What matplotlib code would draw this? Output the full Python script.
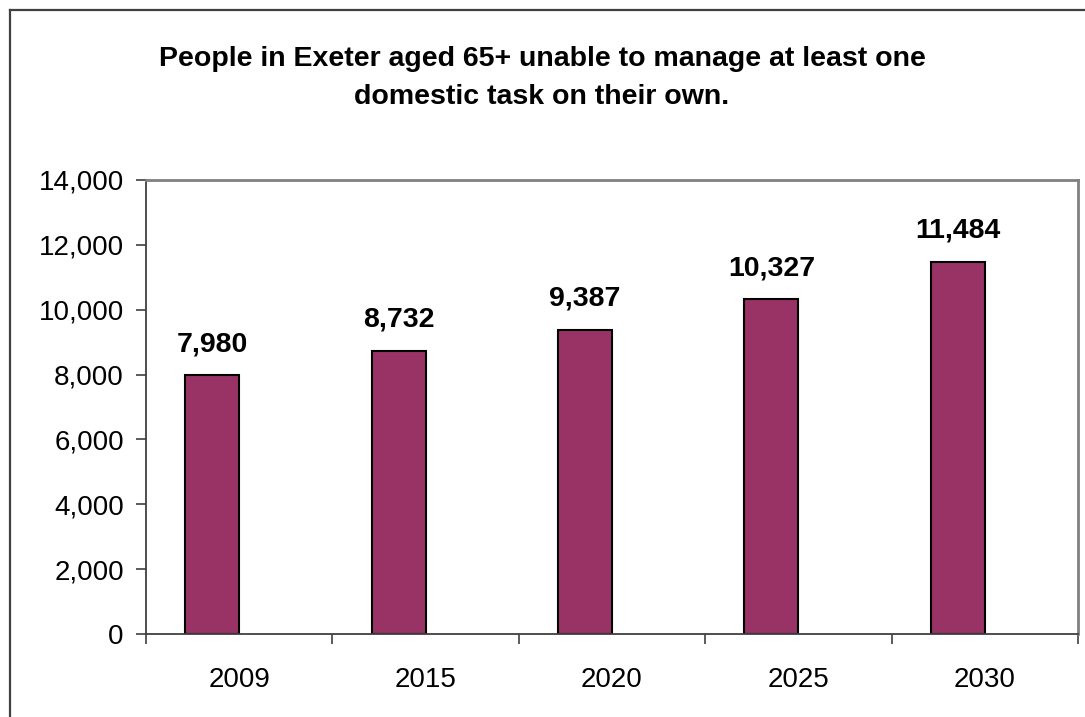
import matplotlib.pyplot as plt
from matplotlib.lines import Line2D
from matplotlib.ticker import FuncFormatter

years = ["2009", "2015", "2020", "2025", "2030"]
people = [7980, 8732, 9387, 10327, 11484]

plt.rcParams['font.family'] = ['Liberation Sans', 'DejaVu Sans']

fig = plt.figure(figsize=(10.85, 7.17), dpi=100)
ax = fig.add_axes([146 / 1085, 1 - 634 / 717, (1078 - 146) / 1085, (634 - 180) / 717])

# outer chart frame (only top and left visible in the crop)
fig.add_artist(Line2D([10 / 1085, 10 / 1085], [0, 1 - 10 / 717], color='#404040', lw=1.6,
                      transform=fig.transFigure))
fig.add_artist(Line2D([10 / 1085, 1], [1 - 10 / 717, 1 - 10 / 717], color='#404040', lw=1.6,
                      transform=fig.transFigure))

# bars sit left of the category centre (empty second series in the original)
w = 0.29
x = list(range(len(years)))
ax.bar([i - w / 2 for i in x], people, width=w, color='#993366', edgecolor='black', linewidth=1.5)

for i, v in enumerate(people):
    ax.text(i - w / 2, v + 550, f"{v:,}", ha='center', va='bottom', fontsize=20.5, fontweight='bold')

ax.set_xlim(-0.5, len(years) - 0.5)
ax.set_ylim(0, 14000)
ax.set_yticks(range(0, 14001, 2000))
ax.yaxis.set_major_formatter(FuncFormatter(lambda v, p: f"{int(v):,}"))

ax.set_xticks([i - 0.5 for i in range(len(years) + 1)])
ax.set_xticklabels([])
ax.set_xticks(x, minor=True)
ax.set_xticklabels(years, minor=True)
ax.tick_params(axis='x', which='major', length=7, width=1.2, color='#404040', direction='out')
ax.tick_params(axis='x', which='minor', length=0, pad=24, labelsize=20)
ax.tick_params(axis='y', length=7, width=1.2, color='#404040', labelsize=20, pad=9)

for s in ['top', 'right']:
    ax.spines[s].set_color('#808080')
    ax.spines[s].set_linewidth(2)
for s in ['left', 'bottom']:
    ax.spines[s].set_color('#404040')
    ax.spines[s].set_linewidth(1.3)

fig.text(542 / 1085, 1 - 78 / 717,
         "People in Exeter aged 65+ unable to manage at least one\ndomestic task on their own.",
         ha='center', va='center', fontsize=20.5, fontweight='bold', linespacing=1.65)

fig.savefig("out.png", dpi=100)
